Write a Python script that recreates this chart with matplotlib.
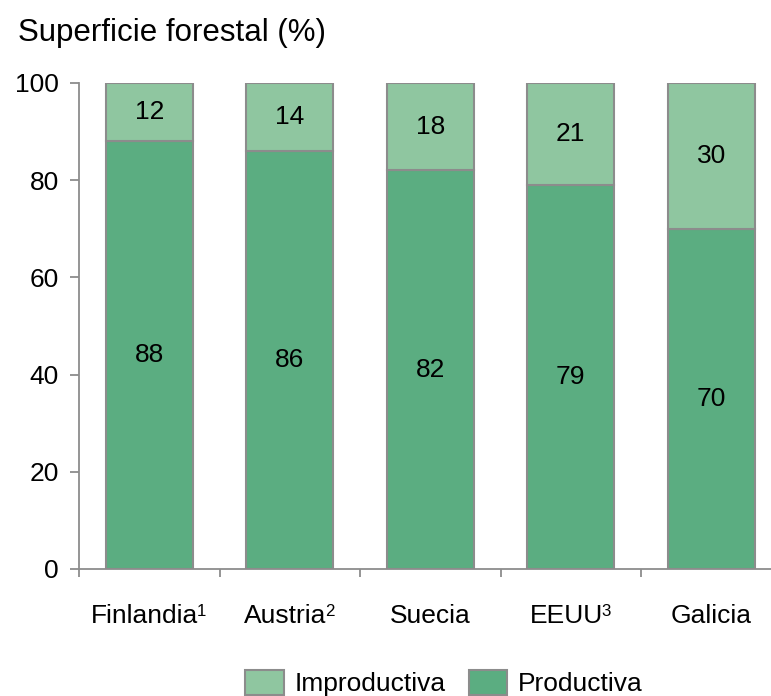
import matplotlib
matplotlib.use("Agg")
import matplotlib.pyplot as plt
import numpy as np
from matplotlib.patches import Patch

plt.rcParams['font.family'] = ['Liberation Sans', 'DejaVu Sans']

categories = ["Finlandia", "Austria", "Suecia", "EEUU", "Galicia"]
superscripts = ["1", "2", "", "3", ""]
productiva = [88, 86, 82, 79, 70]
improductiva = [12, 14, 18, 21, 30]
yticks = [0, 20, 40, 60, 80, 100]

c_improd = "#8FC6A0"
c_prod = "#5BAD81"
edge = "#8C8C8C"

W, H = 771, 696
DPI = 100
fig = plt.figure(figsize=(W / DPI, H / DPI), dpi=DPI)
ax = fig.add_axes([79 / W, (H - 569) / H, (W - 79) / W, (569 - 83) / H])

x = np.arange(len(categories))
bw = 0.62
ax.bar(x, productiva, bw, color=c_prod, edgecolor=edge, linewidth=1.5, zorder=2)
ax.bar(x, improductiva, bw, bottom=productiva, color=c_improd, edgecolor=edge,
       linewidth=1.5, zorder=2)

fs = 19
for xi, p, i in zip(x, productiva, improductiva):
    ax.text(xi, p / 2, str(p), ha='center', va='center', fontsize=fs, color='black')
    ax.text(xi, p + i / 2, str(i), ha='center', va='center', fontsize=fs, color='black')

ax.set_ylim(0, 100)
ax.set_xlim(-0.5, -0.5 + (W - 79) / 140.5)
ax.set_yticks(yticks)
ax.set_yticklabels([str(t) for t in yticks], fontsize=fs)
ax.set_xticks(x)
ax.set_xticklabels([""] * len(categories))
ax.set_xticks(np.arange(len(categories)) - 0.5, minor=True)
ax.tick_params(axis='x', which='major', length=0)
ax.tick_params(axis='x', which='minor', length=6, width=1.3, color=edge, direction='out')
ax.tick_params(axis='y', which='major', length=6.5, width=1.3, color=edge, direction='out', pad=8)

for s in ['top', 'right']:
    ax.spines[s].set_visible(False)
for s in ['left', 'bottom']:
    ax.spines[s].set_color(edge)
    ax.spines[s].set_linewidth(1.3)

# category labels with superscripts
px2pt = 72.0 / DPI
base_drop = 54 * px2pt     # baseline below axis
sup_raise = 7.5 * px2pt
sup_fs = fs * 0.64
fig.canvas.draw()
renderer = fig.canvas.get_renderer()
for xi, name, sup in zip(x, categories, superscripts):
    tb = ax.annotate(name, xy=(xi, 0), xycoords=('data', 'axes fraction'),
                     xytext=(0, -base_drop), textcoords='offset points',
                     ha='left', va='baseline', fontsize=fs)
    wb = tb.get_window_extent(renderer).width
    ws = 0.0
    ts = None
    if sup:
        ts = ax.annotate(sup, xy=(xi, 0), xycoords=('data', 'axes fraction'),
                         xytext=(0, -base_drop + sup_raise), textcoords='offset points',
                         ha='left', va='baseline', fontsize=sup_fs)
        ws = ts.get_window_extent(renderer).width
    start = -(wb + ws) / 2.0
    tb.set_position((start * px2pt, -base_drop))
    if ts is not None:
        ts.set_position(((start + wb - 1.5) * px2pt, -base_drop + sup_raise))

fig.text(18 / W, 1 - 33 / H, "Superficie forestal (%)", fontsize=22.5, ha='left', va='center')

handles = [Patch(facecolor=c_improd, edgecolor=edge, linewidth=1.5, label='Improductiva'),
           Patch(facecolor=c_prod, edgecolor=edge, linewidth=1.5, label='Productiva')]
fig.legend(handles=handles, loc='center', bbox_to_anchor=(444 / W, 1 - 683 / H),
           ncol=2, frameon=False, fontsize=fs, handlelength=1.45, handleheight=1.1,
           handletextpad=0.4, columnspacing=0.9, borderpad=0)

fig.savefig("out.png", dpi=DPI)
